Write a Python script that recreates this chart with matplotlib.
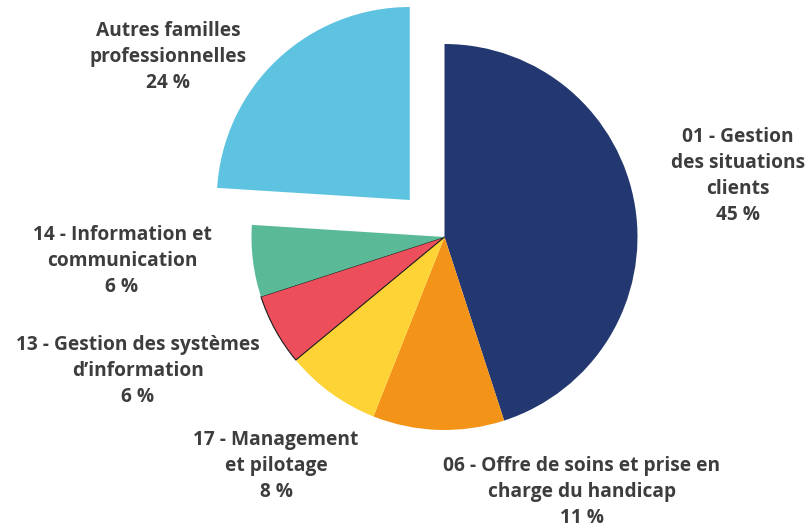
import matplotlib
matplotlib.use("Agg")
import matplotlib.pyplot as plt

categories = ["01 - Gestion\ndes situations\nclients",
              "06 - Offre de soins et prise en\ncharge du handicap",
              "17 - Management\net pilotage",
              "13 - Gestion des systèmes\nd’information",
              "14 - Information et\ncommunication",
              "Autres familles\nprofessionnelles"]
values = [45, 11, 8, 6, 6, 24]
pct_labels = ["45 %", "11 %", "8 %", "6 %", "6 %", "24 %"]
colors = ["#233870", "#F39419", "#FDD335", "#EC4F5B", "#5ABA98", "#5EC3E0"]
explode_frac = [0, 0, 0, 0, 0, 0.263]

H = 532
R = 193
label_pos = [(738, 176), (582, 492), (276, 466), (138, 371), (122, 261), (168, 57)]

fig = plt.figure(figsize=(8.1, 5.32), dpi=100)
ax = fig.add_axes([0, 0, 1, 1])

wedges, _ = ax.pie(values, colors=colors, startangle=90, counterclock=False,
                   explode=[e * R for e in explode_frac],
                   center=(444.5, H - 237), radius=R,
                   wedgeprops=dict(linewidth=0))
wedges[3].set_edgecolor("#1a1a1a")
wedges[3].set_linewidth(0.8)

ax.set_xlim(0, 810)
ax.set_ylim(0, H)
ax.set_aspect("equal")
ax.axis("off")

for (x, y), cat, p in zip(label_pos, categories, pct_labels):
    ax.text(x, H - y, cat + "\n" + p, ha="center", va="center", fontsize=13.8,
            fontweight="bold", color="#3d3d3d", family="Open Sans", linespacing=1.4)

fig.savefig("out.png", dpi=100)
